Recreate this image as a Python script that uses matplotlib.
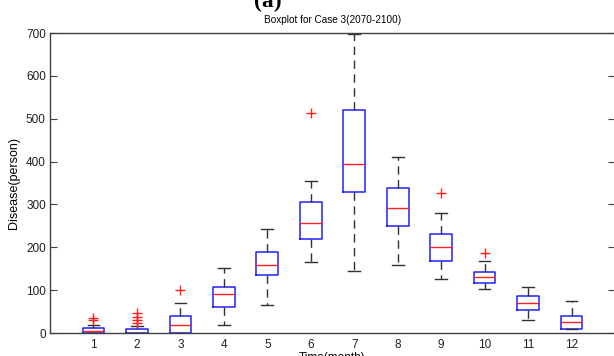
import matplotlib
matplotlib.use('Agg')
import matplotlib.pyplot as plt

# Monthly box statistics (Case 3, 2070-2100)
months = [1, 2, 3, 4, 5, 6, 7, 8, 9, 10, 11, 12]
q1 = [0, 0, 0, 60, 135, 219, 330, 250, 169, 116, 54, 9]
med = [4, 1, 19, 90, 159, 256, 395, 292, 201, 131, 70, 25]
q3 = [12, 9, 40, 107, 190, 306, 520, 338, 230, 143, 86, 40]
whislo = [0, 0, 0, 18, 65, 165, 145, 159, 127, 103, 30, 9]
whishi = [19, 16, 69, 152, 243, 355, 698, 411, 279, 167, 107, 75]
fliers = [[30, 35], [23, 30, 38, 46], [100], [], [], [513], [], [],
          [327], [186], [], []]

stats = []
for i in range(len(months)):
    stats.append(dict(label=str(months[i]), q1=q1[i], med=med[i], q3=q3[i],
                      whislo=whislo[i], whishi=whishi[i], fliers=fliers[i]))

plt.rcParams['font.family'] = ['Liberation Sans', 'DejaVu Sans']

W, H = 614, 356
fig = plt.figure(figsize=(W / 100, H / 100), dpi=100)
ax = fig.add_axes([50 / W, 23 / H, 565 / W, 300 / H])

ax.bxp(stats, positions=months, widths=0.5, capwidths=0.27,
       boxprops=dict(color='#2020ff', linewidth=1.1),
       medianprops=dict(color='#ff2020', linewidth=1.0),
       whiskerprops=dict(color='#303030', linewidth=1.0, linestyle=(0, (6, 4))),
       capprops=dict(color='#303030', linewidth=1.0),
       flierprops=dict(marker='+', markeredgecolor='#ff2020', markersize=7,
                       linestyle='none'))

ax.set_xlim(0, 13)
ax.set_ylim(0, 700)
ax.set_yticks(range(0, 701, 100))
ax.set_xticks(months)
ax.set_xticklabels([str(m) for m in months])

for s in ax.spines.values():
    s.set_color('#404040')
    s.set_linewidth(1.0)

ax.tick_params(axis='y', direction='in', length=5, right=True, labelsize=8.5,
               colors='#404040', labelcolor='#202020', pad=3)
ax.tick_params(axis='x', length=0, labelsize=8.5, labelcolor='#202020', pad=4)

ax.set_xlabel('Time(month)', fontsize=8.5, labelpad=1)
ax.set_ylabel('Disease(person)', fontsize=9, labelpad=4)
ax.set_title('Boxplot for Case 3(2070-2100)', fontsize=7.2, pad=7)

fig.text(268 / W, 1 - 1 / H, '(a)', fontsize=17, fontweight='bold',
         family='Liberation Serif', ha='center', va='center')

fig.savefig('out.png', dpi=100)
